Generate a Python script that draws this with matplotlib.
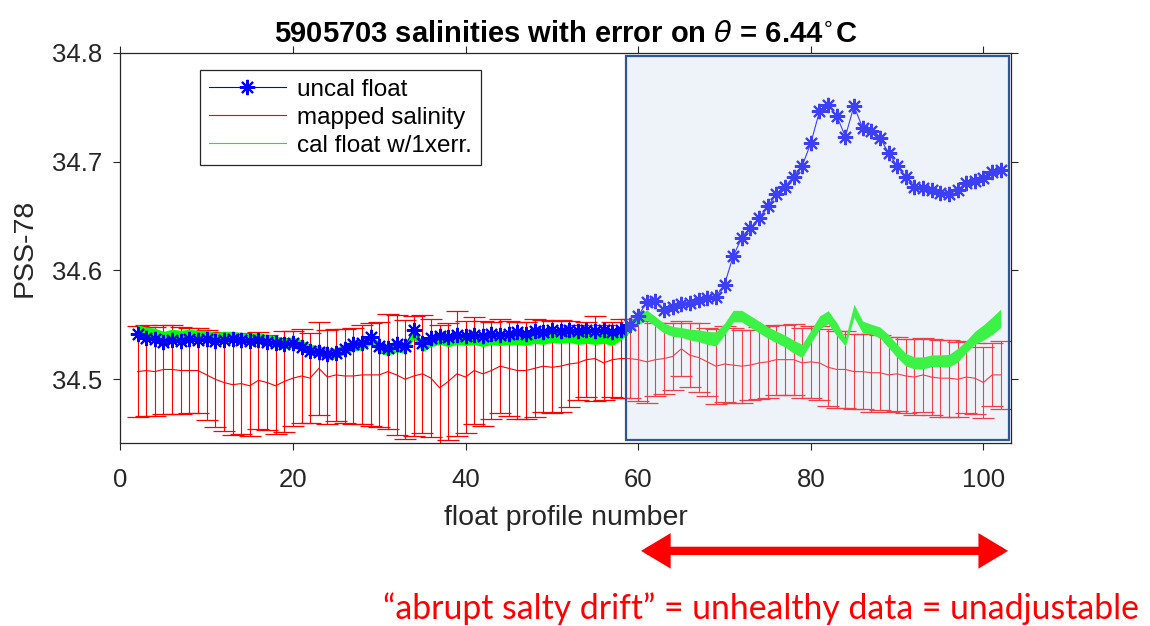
import matplotlib
matplotlib.use("Agg")
import matplotlib.pyplot as plt
from matplotlib.lines import Line2D
from matplotlib.patches import Rectangle, FancyArrowPatch

plt.rcParams['font.family'] = ['Liberation Sans', 'DejaVu Sans']

# float profile numbers
profiles = list(range(2, 103))

# uncalibrated float salinity (blue stars)
uncal = [34.542, 34.538, 34.537, 34.534, 34.536, 34.535, 34.537, 34.536, 34.537, 34.535,
         34.536, 34.537, 34.536, 34.535, 34.536, 34.534, 34.533, 34.532, 34.533, 34.530,
         34.526, 34.525, 34.523, 34.524, 34.528, 34.532, 34.533, 34.539, 34.531, 34.529,
         34.532, 34.531, 34.545, 34.533, 34.538, 34.540, 34.539, 34.541, 34.540, 34.541,
         34.540, 34.542, 34.541, 34.542, 34.543, 34.542, 34.544, 34.543, 34.545, 34.544,
         34.545, 34.544, 34.545, 34.544, 34.545, 34.543, 34.545, 34.550, 34.558, 34.571,
         34.572, 34.564, 34.566, 34.569, 34.570, 34.573, 34.575, 34.576, 34.587, 34.613,
         34.630, 34.639, 34.648, 34.659, 34.670, 34.677, 34.686, 34.696, 34.717, 34.746,
         34.752, 34.742, 34.723, 34.751, 34.731, 34.728, 34.722, 34.708, 34.696, 34.686,
         34.677, 34.676, 34.674, 34.671, 34.670, 34.674, 34.680, 34.682, 34.685, 34.690,
         34.692]

# mapped salinity (red line) and its error
mapped = [34.507, 34.508, 34.507, 34.509, 34.509, 34.508, 34.508, 34.508, 34.504, 34.500,
          34.497, 34.495, 34.496, 34.494, 34.499, 34.497, 34.494, 34.498, 34.501, 34.503,
          34.501, 34.510, 34.502, 34.504, 34.503, 34.503, 34.504, 34.504, 34.504, 34.507,
          34.504, 34.500, 34.503, 34.505, 34.501, 34.492, 34.498, 34.505, 34.502, 34.508,
          34.505, 34.508, 34.512, 34.510, 34.508, 34.508, 34.510, 34.512, 34.511, 34.512,
          34.514, 34.515, 34.518, 34.519, 34.515, 34.518, 34.519, 34.519, 34.518, 34.516,
          34.518, 34.519, 34.521, 34.528, 34.522, 34.520, 34.516, 34.512, 34.514, 34.513,
          34.512, 34.513, 34.515, 34.516, 34.518, 34.518, 34.518, 34.515, 34.516, 34.515,
          34.511, 34.509, 34.509, 34.507, 34.507, 34.506, 34.506, 34.504, 34.505, 34.503,
          34.502, 34.504, 34.502, 34.501, 34.501, 34.500, 34.502, 34.501, 34.497, 34.504,
          34.504]

mapped_err = [0.0417, 0.0417, 0.0409, 0.0409, 0.0406, 0.0399, 0.0391, 0.0391, 0.0411, 0.0437,
              0.0448, 0.0460, 0.0465, 0.0465, 0.0445, 0.0434, 0.0442, 0.0463, 0.0437, 0.0429,
              0.0414, 0.0425, 0.0432, 0.0425, 0.0429, 0.0442, 0.0455, 0.0474, 0.0483, 0.0529,
              0.0552, 0.0547, 0.0549, 0.0541, 0.0540, 0.0575, 0.0541, 0.0575, 0.0514, 0.0494,
              0.0483, 0.0445, 0.0429, 0.0434, 0.0442, 0.0449, 0.0449, 0.0422, 0.0422, 0.0422,
              0.0393, 0.0345, 0.0345, 0.0391, 0.0345, 0.0345, 0.0363, 0.0360, 0.0376, 0.0376,
              0.0337, 0.0330, 0.0307, 0.0253, 0.0294, 0.0314, 0.0314, 0.0345, 0.0345, 0.0345,
              0.0337, 0.0325, 0.0330, 0.0330, 0.0322, 0.0322, 0.0325, 0.0322, 0.0330, 0.0337,
              0.0353, 0.0350, 0.0353, 0.0345, 0.0345, 0.0357, 0.0342, 0.0345, 0.0340, 0.0343,
              0.0348, 0.0340, 0.0348, 0.0353, 0.0353, 0.0345, 0.0330, 0.0327, 0.0330, 0.0290,
              0.0314]

# calibrated float (green band centre and half width)
cal = [34.545, 34.543, 34.542, 34.539, 34.541, 34.540, 34.541, 34.540, 34.540, 34.538,
       34.539, 34.539, 34.538, 34.537, 34.538, 34.536, 34.535, 34.533, 34.534, 34.531,
       34.527, 34.526, 34.523, 34.524, 34.528, 34.531, 34.532, 34.537, 34.529, 34.527,
       34.530, 34.529, 34.542, 34.530, 34.535, 34.537, 34.535, 34.537, 34.536, 34.537,
       34.535, 34.537, 34.536, 34.537, 34.537, 34.536, 34.538, 34.537, 34.539, 34.538,
       34.539, 34.537, 34.538, 34.537, 34.538, 34.536, 34.541, 34.548, 34.555, 34.559,
       34.553, 34.547, 34.544, 34.543, 34.541, 34.540, 34.538, 34.537, 34.546, 34.558,
       34.558, 34.553, 34.548, 34.543, 34.539, 34.535, 34.530, 34.526, 34.539, 34.552,
       34.557, 34.546, 34.534, 34.563, 34.548, 34.546, 34.543, 34.535, 34.526, 34.518,
       34.515, 34.515, 34.517, 34.517, 34.517, 34.522, 34.530, 34.538, 34.543, 34.549,
       34.556]

cal_err = [0.005, 0.005, 0.005, 0.005, 0.005, 0.005, 0.005, 0.005, 0.005, 0.005,
           0.005, 0.005, 0.005, 0.005, 0.005, 0.005, 0.005, 0.005, 0.005, 0.005,
           0.005, 0.005, 0.005, 0.005, 0.005, 0.005, 0.005, 0.005, 0.005, 0.005,
           0.005, 0.005, 0.005, 0.005, 0.005, 0.005, 0.005, 0.005, 0.005, 0.005,
           0.005, 0.005, 0.005, 0.005, 0.005, 0.005, 0.005, 0.005, 0.005, 0.005,
           0.005, 0.005, 0.005, 0.005, 0.005, 0.005, 0.005, 0.005, 0.005, 0.0045,
           0.0046, 0.0045, 0.0045, 0.0045, 0.005, 0.0054, 0.006, 0.0065, 0.0054, 0.0053,
           0.0053, 0.0054, 0.0054, 0.0053, 0.0054, 0.0054, 0.006, 0.006, 0.006, 0.006,
           0.006, 0.006, 0.0035, 0.006, 0.0054, 0.0046, 0.005, 0.006, 0.006, 0.0058,
           0.0055, 0.0055, 0.0054, 0.0054, 0.0058, 0.0063, 0.0054, 0.006, 0.007, 0.008,
           0.0085]

title = r'5905703 salinities with error on $\theta$ = 6.44$^{\circ}$C'
note = '\u201cabrupt salty drift\u201d = unhealthy data = unadjustable'
dark = '#262626'

fig = plt.figure(figsize=(11.5, 6.26), dpi=100)
ax = fig.add_axes([0.1046, 0.2928, 0.7746, 0.623])

ax.errorbar(profiles, mapped, yerr=mapped_err, color='#ff0000', lw=0.8,
            elinewidth=0.8, capsize=8, capthick=0.9, zorder=2)
lo = [c - e for c, e in zip(cal, cal_err)]
hi = [c + e for c, e in zip(cal, cal_err)]
ax.fill_between(profiles, lo, hi, color='#00ff00', lw=0, zorder=3)
ax.plot(profiles, uncal, color='#0000ff', lw=0.8, marker=(8, 2, 0), ms=11, mew=1.5, zorder=4)

# highlighted drift region
ax.add_patch(Rectangle((58.6, 34.4445), 44.38, 0.3525, facecolor=(0.78, 0.84, 0.93, 0.3),
                       edgecolor='#2f5597', lw=1.6, zorder=5))

ax.set_xlim(0, 103.2)
ax.set_ylim(34.4417, 34.8)
ax.set_xticks([0, 20, 40, 60, 80, 100])
ax.set_yticks([34.5, 34.6, 34.7, 34.8])
ax.tick_params(direction='out', length=5, width=0.8, top=True, right=True,
               labelsize=18.5, colors=dark)
ax.tick_params(axis='x', pad=13)
ax.tick_params(axis='y', pad=8)
for s in ax.spines.values():
    s.set_color(dark)
    s.set_linewidth(0.9)

ax.set_title(title, fontsize=21, fontweight='bold', color='black', pad=8)
ax.set_xlabel('float profile number', fontsize=20.5, color=dark)
ax.set_ylabel('PSS-78', fontsize=20.5, color=dark)
ax.xaxis.set_label_coords(0.5, -0.16)
ax.yaxis.set_label_coords(-0.093, 0.5)

handles = [Line2D([], [], color='#0000ff', lw=0.8, marker=(8, 2, 0), ms=11, mew=1.5),
           Line2D([], [], color='#ff0000', lw=0.8),
           Line2D([], [], color='#00ff00', lw=0.8)]
leg = fig.legend(handles, ['uncal float', 'mapped salinity', 'cal float w/1xerr.'],
                 loc='upper left', bbox_to_anchor=(0.174, 0.888), fontsize=17.5,
                 frameon=True, fancybox=False, edgecolor=dark, framealpha=1,
                 handlelength=3.2, handletextpad=0.45, labelspacing=0.25,
                 borderpad=0.35, borderaxespad=0)
leg.get_frame().set_linewidth(0.9)

arrow = FancyArrowPatch((0.555, 0.12), (0.879, 0.12), transform=fig.transFigure,
                        arrowstyle='<|-|>,head_length=0.5,head_width=0.3',
                        mutation_scale=25, color='#ff0000', lw=6, joinstyle='miter')
fig.add_artist(arrow)
fig.text(0.333, 0.028, note, color='#ff0000', fontsize=24.3, family=['Lato', 'DejaVu Sans'],
         ha='left', va='center')

fig.savefig('out.png', dpi=100)
